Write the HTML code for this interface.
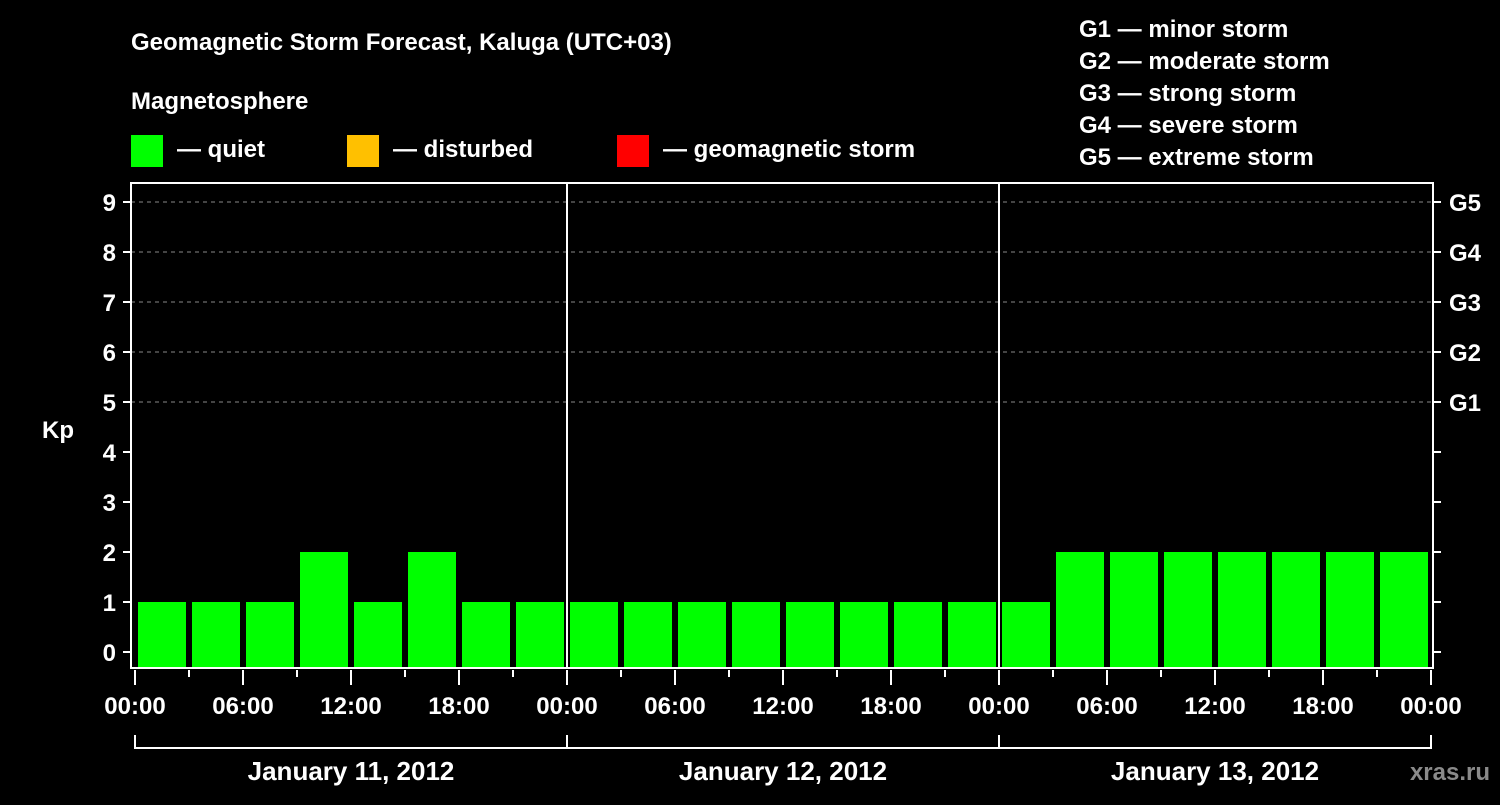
<!DOCTYPE html>
<html><head><meta charset="utf-8"><style>
body{margin:0;background:#000;width:1500px;height:800px;overflow:hidden}
svg text{font-family:"Liberation Sans",Arial,sans-serif;font-weight:bold;fill:#fff}
</style></head><body>
<svg id="c" width="1500" height="800" xmlns="http://www.w3.org/2000/svg">
<rect width="1500" height="800" fill="#000"/>
<text x="131" y="50" font-size="24">Geomagnetic Storm Forecast, Kaluga (UTC+03)</text>
<text x="131" y="109" font-size="24">Magnetosphere</text>
<g><rect x="131" y="135" width="32" height="32" fill="#00ff00"/><text x="177" y="157" font-size="24">— quiet</text></g>
<g><rect x="347" y="135" width="32" height="32" fill="#ffc000"/><text x="393" y="157" font-size="24">— disturbed</text></g>
<g><rect x="617" y="135" width="32" height="32" fill="#ff0000"/><text x="663" y="157" font-size="24">— geomagnetic storm</text></g>
<g font-size="24">
<text x="1079" y="37">G1 — minor storm</text>
<text x="1079" y="69">G2 — moderate storm</text>
<text x="1079" y="101">G3 — strong storm</text>
<text x="1079" y="133">G4 — severe storm</text>
<text x="1079" y="165">G5 — extreme storm</text>
</g>
<text x="42" y="438" font-size="24">Kp</text>
<text x="1490" y="780" font-size="24" fill="#888" style="fill:#8a8a8a" text-anchor="end">xras.ru</text>
<g id="grid"></g><g id="bars"></g><g id="axes"></g>
</svg>
<script>
const kpValues=[1,1,1,2,1,2,1,1, 1,1,1,1,1,1,1,1, 1,2,2,2,2,2,2,2];
const dayLabels=["January 11, 2012","January 12, 2012","January 13, 2012"];
const hourLabels=["00:00","06:00","12:00","18:00"];
const yTicks=[0,1,2,3,4,5,6,7,8,9];
const gLabels=["G1","G2","G3","G4","G5"];
const NS="http://www.w3.org/2000/svg";
const X0=135,SLOT=54,L=131,R=1433,T=183,B=668;
const y=v=>652-50*v, x=i=>X0+SLOT*i;
function mk(t,a,p){const e=document.createElementNS(NS,t);for(const k in a)e.setAttribute(k,a[k]);p.appendChild(e);return e;}
const grid=document.getElementById('grid'),bars=document.getElementById('bars'),axes=document.getElementById('axes');
for(let g=5;g<=9;g++){const l=mk('line',{x1:L,x2:R,y1:y(g),y2:y(g),stroke:'#888','stroke-dasharray':'4,4','stroke-width':1},grid);

}
kpValues.forEach((v,i)=>{const c=v>=5?'#ff0000':(v>=4?'#ffc000':'#00ff00');
const r=mk('rect',{x:x(i)+3,y:y(v),width:48,height:B-y(v),fill:c},bars);

});
for(let d=1;d<dayLabels.length;d++){const l=mk('line',{x1:x(8*d),x2:x(8*d),y1:T,y2:B,stroke:'#fff','stroke-width':2},axes);

}
const fr=mk('rect',{x:L,y:T,width:R-L,height:B-T,fill:'none',stroke:'#fff','stroke-width':2},axes);


yTicks.forEach(t=>{mk('line',{x1:123,x2:L,y1:y(t),y2:y(t),stroke:'#fff','stroke-width':2},axes);
mk('line',{x1:R,x2:1441,y1:y(t),y2:y(t),stroke:'#fff','stroke-width':2},axes);
const tx=mk('text',{x:116,y:y(t)+9,'font-size':24,'text-anchor':'end'},axes);tx.textContent=t;

});
gLabels.forEach((g,i)=>{const tx=mk('text',{x:1449,y:y(5+i)+9,'font-size':24},axes);tx.textContent=g;

});
for(let i=0;i<=kpValues.length;i++){const maj=i%2==0;
mk('line',{x1:x(i),x2:x(i),y1:670,y2:maj?685:677,stroke:'#fff','stroke-width':2},axes);
if(maj){const tx=mk('text',{x:x(i),y:714,'font-size':24,'text-anchor':'middle'},axes);tx.textContent=hourLabels[(i/2)%4];

}}
dayLabels.forEach((d,k)=>{const a=x(8*k),b=x(8*k+8);
mk('path',{d:`M${a},735V748H${b}V735`,fill:'none',stroke:'#fff','stroke-width':2},axes);
const tx=mk('text',{x:(a+b)/2,y:780,'font-size':26,'text-anchor':'middle'},axes);tx.textContent=d;

});
</script>
</body></html>
